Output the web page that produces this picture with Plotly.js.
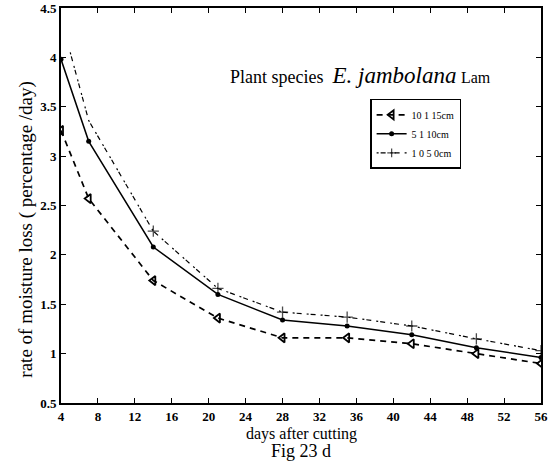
<!DOCTYPE html>
<html>
<head>
<meta charset="utf-8">
<script src="https://cdn.plot.ly/plotly-3.0.1.min.js"></script>
<style>html,body{margin:0;padding:0;background:#fff;}#chart{width:552px;height:463px;}</style>
</head>
<body>
<div id="chart"></div>
<script>
// Data
const seriesNames = ["10 1 15cm", "5 1 10cm", "1 0 5 0cm"];
const days1 = [4, 7, 14, 21, 28, 35, 42, 49, 56];
const loss1 = [3.26, 2.57, 1.74, 1.36, 1.16, 1.16, 1.10, 1.00, 0.90];
const days2 = [4, 7, 14, 21, 28, 35, 42, 49, 56];
const loss2 = [3.98, 3.15, 2.08, 1.60, 1.34, 1.28, 1.19, 1.06, 0.96];
const days3 = [5, 7, 14, 21, 28, 35, 42, 49, 56];
const loss3 = [4.05, 3.36, 2.24, 1.66, 1.42, 1.37, 1.28, 1.15, 1.03];
const xTicks = [4, 8, 12, 16, 20, 24, 28, 32, 36, 40, 44, 48, 52, 56];
const yTicks = [0.5, 1, 1.5, 2, 2.5, 3, 3.5, 4, 4.5];

const serif = "Liberation Serif, Times New Roman, serif";

const traces = [
  {x: days1, y: loss1, name: seriesNames[0], mode: "lines+markers",
   line: {color: "#000", width: 1.7, dash: "6px,5px"},
   marker: {symbol: "triangle-left-open", size: 8, color: "#000", line: {width: 1.8, color: "#000"}}},
  {x: days2, y: loss2, name: seriesNames[1], mode: "lines+markers",
   line: {color: "#000", width: 1.5},
   marker: {symbol: "circle", size: 5, color: "#000"}},
  {x: days3, y: loss3, name: seriesNames[2], mode: "lines+markers",
   line: {color: "#000", width: 1.2, dash: "2px,2px,5px,5px"},
   marker: {symbol: "cross-thin-open", size: days3.map((d, i) => i < 2 ? 0 : 8), color: "#000", line: {width: 1.3, color: "#000"}}}
];

const layout = {
  width: 552, height: 463,
  margin: {l: 61, r: 11, t: 8, b: 60},
  paper_bgcolor: "#fff", plot_bgcolor: "#fff",
  showlegend: true,
  legend: {x: 0.644, y: 0.77, xanchor: "left", yanchor: "top",
           bordercolor: "#000", borderwidth: 1.5, bgcolor: "#fff",
           font: {family: serif, size: 10, color: "#000"},
           tracegroupgap: 0, itemwidth: 30},
  xaxis: {range: [4, 56], tickvals: xTicks, ticktext: xTicks.map(String),
          ticks: "inside", ticklen: 5, tickcolor: "#000", tickwidth: 1,
          showline: true, linecolor: "#000", linewidth: 2, mirror: "ticks",
          showgrid: false, zeroline: false, ticklabeloverflow: "allow",
          tickfont: {family: serif, size: 13, color: "#000", weight: "bold"}},
  yaxis: {range: [0.5, 4.5], tickvals: yTicks, ticktext: yTicks.map(String),
          ticks: "inside", ticklen: 5, tickcolor: "#000", tickwidth: 1,
          showline: true, linecolor: "#000", linewidth: 2, mirror: "ticks",
          showgrid: false, zeroline: false, ticklabeloverflow: "allow",
          tickfont: {family: serif, size: 13, color: "#000", weight: "bold"}},
  annotations: [
    {xref: "paper", yref: "paper", x: 0.348, y: 0.83, xanchor: "left", yanchor: "middle",
     showarrow: false, font: {family: serif, size: 18, color: "#000"},
     text: "Plant species  <span style='font-size:23px'><i>E. jambolana</i></span> <span style='font-size:16px'>Lam</span>"},
    {xref: "paper", yref: "paper", x: -0.072, y: 0.44, xanchor: "center", yanchor: "middle",
     textangle: -90, showarrow: false, font: {family: serif, size: 19, color: "#000"},
     text: "rate of moisture loss ( percentage /day)"},
    {xref: "paper", yref: "paper", x: 0.5, y: -0.05, xanchor: "center", yanchor: "top",
     showarrow: false, font: {family: serif, size: 16, color: "#000"},
     text: "days after cutting"},
    {xref: "paper", yref: "paper", x: 0.5, y: -0.092, xanchor: "center", yanchor: "top",
     showarrow: false, font: {family: serif, size: 18, color: "#000"},
     text: "Fig 23 d"}
  ]
};

Plotly.newPlot("chart", traces, layout, {displayModeBar: false, staticPlot: true});
</script>
</body>
</html>
